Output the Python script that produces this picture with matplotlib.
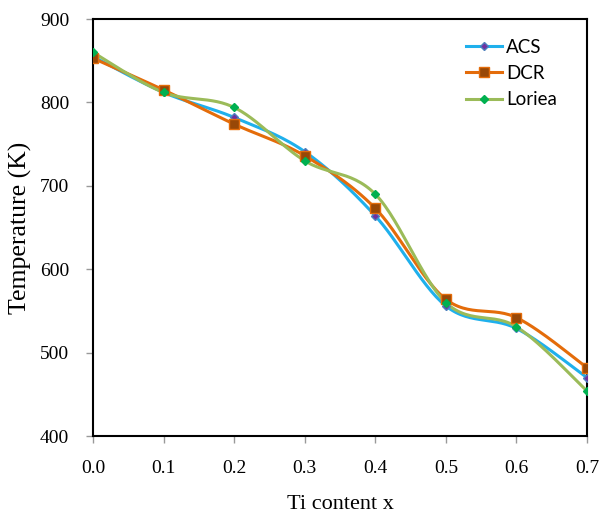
import numpy as np
import matplotlib.pyplot as plt
from matplotlib.lines import Line2D

x = [0.0, 0.1, 0.2, 0.3, 0.4, 0.5, 0.6, 0.7]
acs = [855, 812, 782, 741, 664, 556, 529, 470]
dcr = [853, 815, 774, 736, 673, 564, 542, 482]
loriea = [860, 812, 794, 730, 690, 560, 531, 454]


def smooth(xs, ys, n=30):
    # Excel-like smoothed line: cubic Bezier with Catmull-Rom control points
    p = np.column_stack([xs, ys]).astype(float)
    p = np.vstack([p[0], p, p[-1]])
    out = []
    t = np.linspace(0, 1, n)[:, None]
    for i in range(1, len(p) - 2):
        p0, p3 = p[i], p[i + 1]
        c1 = p0 + (p[i + 1] - p[i - 1]) / 6
        c2 = p3 - (p[i + 2] - p[i]) / 6
        seg = ((1 - t) ** 3) * p0 + 3 * ((1 - t) ** 2) * t * c1 \
            + 3 * (1 - t) * t ** 2 * c2 + t ** 3 * p3
        out.append(seg if i == 1 else seg[1:])
    s = np.vstack(out)
    return s[:, 0], s[:, 1]


series = [
    ("ACS", acs, "#1FB0EC", "D", "#7030A0", "#4F81BD", 4.5),
    ("DCR", dcr, "#E46C0A", "s", "#984807", "#E46C0A", 6.5),
    ("Loriea", loriea, "#9BBB59", "D", "#00B050", "#00B050", 4.5),
]

fig = plt.figure(figsize=(6.01, 5.21), dpi=100)
ax = fig.add_axes([0.1547, 0.1631, 0.822, 0.8004])

handles = []
for name, ys, lc, mk, mfc, mec, ms in series:
    sx, sy = smooth(x, ys)
    ax.plot(sx, sy, color=lc, lw=2.2, zorder=2)
    ax.plot(x, ys, ls="none", marker=mk, ms=ms, mfc=mfc, mec=mec,
            mew=1.0, zorder=3)
    handles.append(Line2D([], [], color=lc, lw=2.2, marker=mk, ms=ms,
                          mfc=mfc, mec=mec, label=name))

ax.set_xlim(0, 0.7)
ax.set_ylim(400, 900)
ax.set_xticks(np.arange(0, 0.71, 0.1))
ax.set_xticklabels([f"{v:.1f}" for v in np.arange(0, 0.71, 0.1)])
ax.set_yticks(range(400, 901, 100))

for sp in ax.spines.values():
    sp.set_color("black")
    sp.set_linewidth(1.5)
ax.tick_params(direction="out", length=5, width=1, color="#999999",
               labelsize=14)
ax.tick_params(axis="y", pad=12)
ax.tick_params(axis="x", pad=12)
for lab in ax.get_xticklabels() + ax.get_yticklabels():
    lab.set_family("Liberation Serif")

ax.set_xlabel("Ti content x", family="Liberation Serif", fontsize=16,
              labelpad=13)
ax.set_ylabel("Temperature (K)", family="Liberation Serif", fontsize=18.5,
              labelpad=6)

leg = ax.legend(handles=handles, loc="upper left",
                bbox_to_anchor=(0.755, 0.953), frameon=False,
                borderaxespad=0, borderpad=0,
                prop={"family": "Lato", "size": 13.5},
                handlelength=1.9, handletextpad=0.25, labelspacing=0.5)

fig.savefig("out.png", dpi=100)
